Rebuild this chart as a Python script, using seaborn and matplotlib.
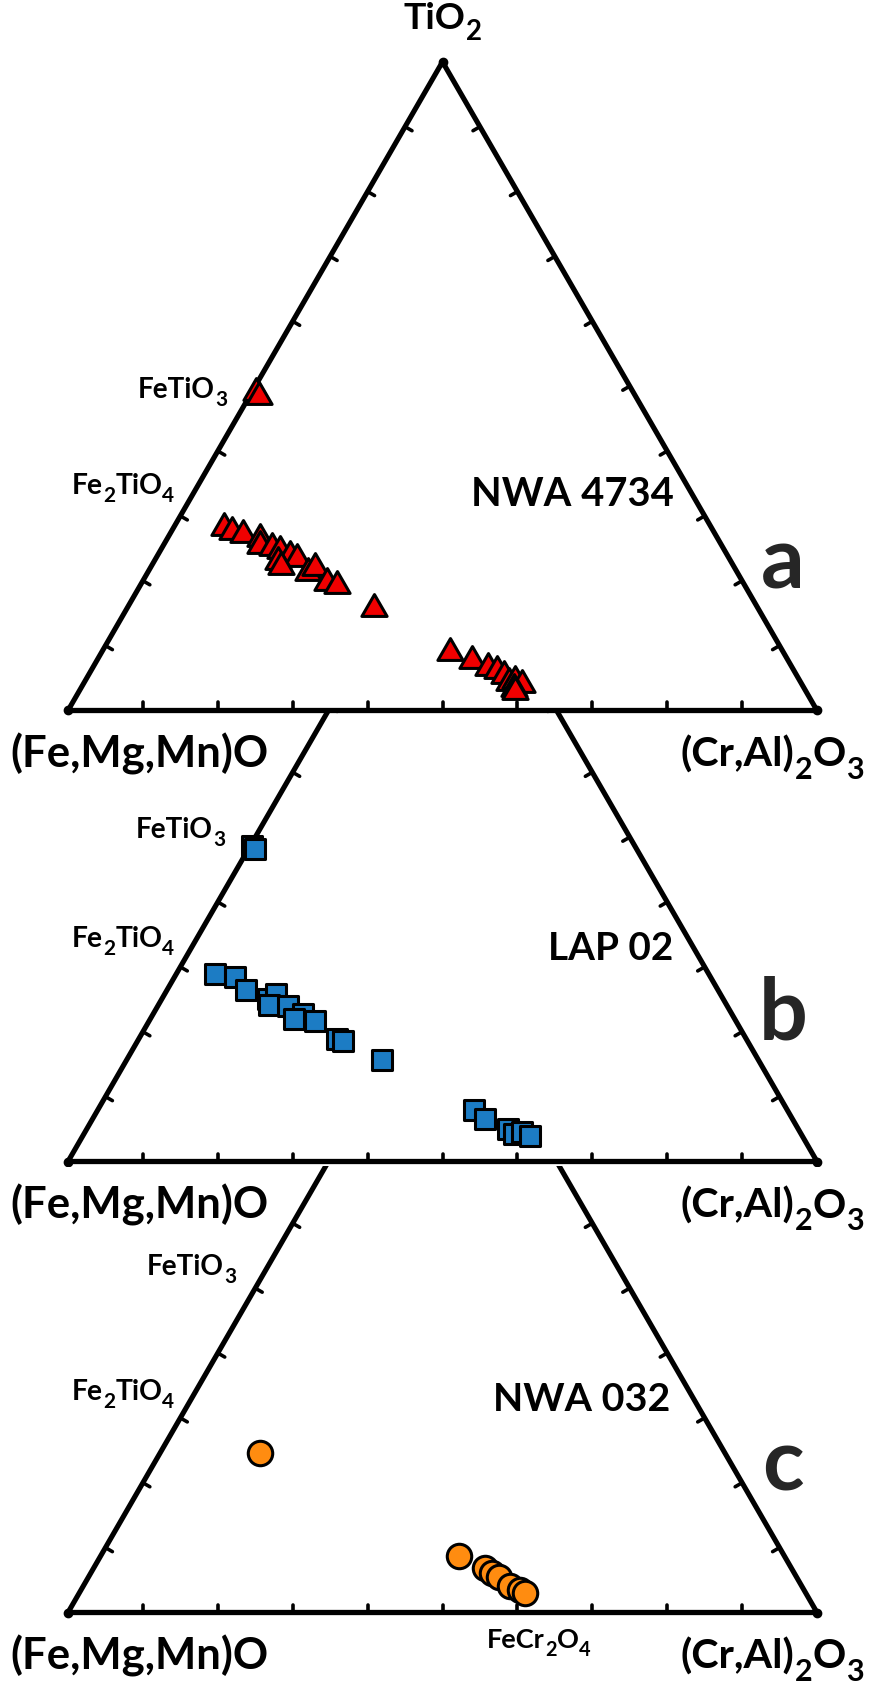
import numpy as np
import pandas as pd
import matplotlib
matplotlib.use("Agg")
import matplotlib.pyplot as plt
import seaborn as sns
from matplotlib.path import Path

sns.set_theme(style="white")
plt.rcParams['font.family'] = ['Lato', 'DejaVu Sans']
plt.rcParams['font.weight'] = 'bold'

# ---------------- data (mol %, ternary TiO2 / (Cr,Al)2O3; rest = (Fe,Mg,Mn)O) ----------------
nwa4734_tio2 = [49.6, 48.9, 28.8, 28.2, 27.7, 27.0, 26.0, 25.7, 25.2, 24.4, 23.9, 23.5, 22.8,
                21.8, 22.6, 20.3, 19.8, 16.2, 9.5, 8.2, 7.2, 6.7, 5.9, 4.9, 5.2, 4.6, 4.0, 3.4]
nwa4734_cral = [0.3, 1.0, 6.4, 7.8, 9.5, 12.2, 12.6, 14.4, 15.7, 17.5, 18.6, 16.3, 17.0,
                21.2, 21.7, 24.4, 26.0, 32.7, 46.2, 49.9, 52.5, 53.9, 55.2, 56.4, 57.1, 58.3, 57.6, 58.0]

lap02_tio2 = [48.7, 48.2, 28.9, 28.4, 26.4, 25.1, 25.8, 24.2, 24.0, 22.8, 22.0, 21.7, 18.9, 18.6,
              15.6, 7.9, 6.6, 5.0, 4.2, 4.5, 4.0]
lap02_cral = [0.2, 0.8, 5.2, 8.1, 10.5, 14.2, 14.9, 14.8, 17.4, 20.0, 19.2, 22.1, 26.4, 27.4,
              34.1, 50.2, 52.4, 56.3, 57.5, 58.3, 59.7]

nwa032_tio2 = [24.6, 8.7, 6.9, 6.1, 5.4, 4.1, 3.5, 3.0]
nwa032_cral = [13.4, 47.8, 52.2, 53.5, 54.8, 57.0, 58.6, 59.5]

sample_names = ['NWA 4734', 'LAP 02', 'NWA 032']
panel_letters = ['a', 'b', 'c']
# label segments: (text, is_subscript)
apex_label = [('TiO', False), ('2', True)]
left_label = [('(Fe,Mg,Mn)O', False)]
right_label = [('(Cr,Al)', False), ('2', True), ('O', False), ('3', True)]
fetio3_label = [('FeTiO', False), ('3', True)]
fe2tio4_label = [('Fe', False), ('2', True), ('TiO', False), ('4', True)]
fecr2o4_label = [('FeCr', False), ('2', True), ('O', False), ('4', True)]
tick_fracs = [0.1, 0.2, 0.3, 0.4, 0.5, 0.6, 0.7, 0.8, 0.9]


def to_frame(tio2, cral):
    t = np.asarray(tio2, float)
    c = np.asarray(cral, float)
    f = 100.0 - t - c
    return pd.DataFrame({'TiO2': t, 'CrAl2O3': c, 'FeMgMnO': f,
                         'x': c / 100.0 + t / 200.0,
                         'y': t / 100.0 * np.sqrt(3) / 2})


datasets = [to_frame(nwa4734_tio2, nwa4734_cral),
            to_frame(lap02_tio2, lap02_cral),
            to_frame(nwa032_tio2, nwa032_cral)]

# ---------------- layout ----------------
W, H = 869, 1688
fig = plt.figure(figsize=(W / 100, H / 100), dpi=100)
fig.patch.set_facecolor('white')
renderer = fig.canvas.get_renderer()

SCALE = 749.0     # px per unit base length
LEFT_PX = 68.0
SQ3 = np.sqrt(3) / 2

bands = [(0.0, 713.5, 710.5), (713.5, 1165.5, 1161.5), (1165.5, 1688.0, 1612.5)]

tri = Path([(0, 1), (-1.1547, -1), (1.1547, -1), (0, 1)],
           [Path.MOVETO, Path.LINETO, Path.LINETO, Path.CLOSEPOLY])
styles = [dict(marker=tri, s=330, color='#f00000'),
          dict(marker='s', s=228, color='#1c7cc4'),
          dict(marker='o', s=310, color='#ff8c10')]

SUB_SCALE = 0.74
SUB_DROP = 0.30   # fraction of main font em


def rich_label(segments, x, y, width, color='black'):
    """Lay out text segments (with subscripts) left to right so the total width is `width` px."""
    base_size = 20.0
    texts = []
    widths = []
    for s, sub in segments:
        fs = base_size * (SUB_SCALE if sub else 1.0)
        t = fig.text(0, 0, s, ha='left', va='baseline', fontsize=fs,
                     fontweight='bold', color=color)
        widths.append(t.get_window_extent(renderer=renderer).width)
        texts.append((t, sub))
    k = width / sum(widths)
    main_pt = base_size * k
    drop_px = SUB_DROP * main_pt * 100 / 72
    cx = x
    for (t, sub), w in zip(texts, widths):
        t.set_fontsize(main_pt * (SUB_SCALE if sub else 1.0))
        yy = y + (drop_px if sub else 0)
        t.set_position((cx / W, 1 - yy / H))
        cx += w * k


def label(s, x, y, ha='left', size=20, color='black'):
    return fig.text(x / W, 1 - y / H, s, ha=ha, va='baseline', fontsize=size,
                    fontweight='bold', color=color)


L = 8.0 / SCALE
for i, ((top, bot, base), df, st) in enumerate(zip(bands, datasets, styles)):
    ax = fig.add_axes([0, 1 - bot / H, 1, (bot - top) / H])
    ax.set_xlim(-LEFT_PX / SCALE, (W - LEFT_PX) / SCALE)
    ax.set_ylim((base - bot) / SCALE, (base - top) / SCALE)
    ax.axis('off')
    clip = i > 0
    ax.plot([0, 1, 0.5, 0, 1], [0, 0, SQ3, 0, 0], color='black', lw=3.7,
            solid_joinstyle='round', solid_capstyle='round', clip_on=clip, zorder=2)
    ax.plot([0, 1, 0.5], [0, 0, SQ3], 'o', color='black', ms=6, clip_on=clip, zorder=2)
    for f in tick_fracs:
        segs = [((f, 0), (0, 1)),
                ((f / 2, f * SQ3), (0.866, -0.5)),
                ((1 - f / 2, f * SQ3), (-0.866, -0.5))]
        for (px, py), (dx, dy) in segs:
            ax.plot([px, px + L * dx], [py, py + L * dy], color='black', lw=2.6,
                    solid_capstyle='round', clip_on=clip, zorder=2)
    sns.scatterplot(data=df, x='x', y='y', ax=ax, marker=st['marker'], s=st['s'],
                    color=st['color'], edgecolor='black', linewidth=2.2,
                    legend=False, zorder=3, clip_on=False)

    # labels (pixel positions)
    rich_label(left_label, 10, base + 57, 259)
    rich_label(right_label, 681, base + 56, 183)
    rich_label(fetio3_label, [138, 136, 147][i], [398, 838, 1275][i], 89)
    rich_label(fe2tio4_label, 72, [494, 947, 1400][i], 102)
    rich_label([(sample_names[i], False)], [471, 548, 493][i], [506, 960, 1411][i],
               [202, 125, 177][i])
    label(panel_letters[i], 783, base - 122, ha='center', size=62, color='#262626')

rich_label(apex_label, 404, 29, 78)
rich_label(fecr2o4_label, 487, 1648, 103)

fig.savefig('out.png', dpi=100, facecolor='white')
